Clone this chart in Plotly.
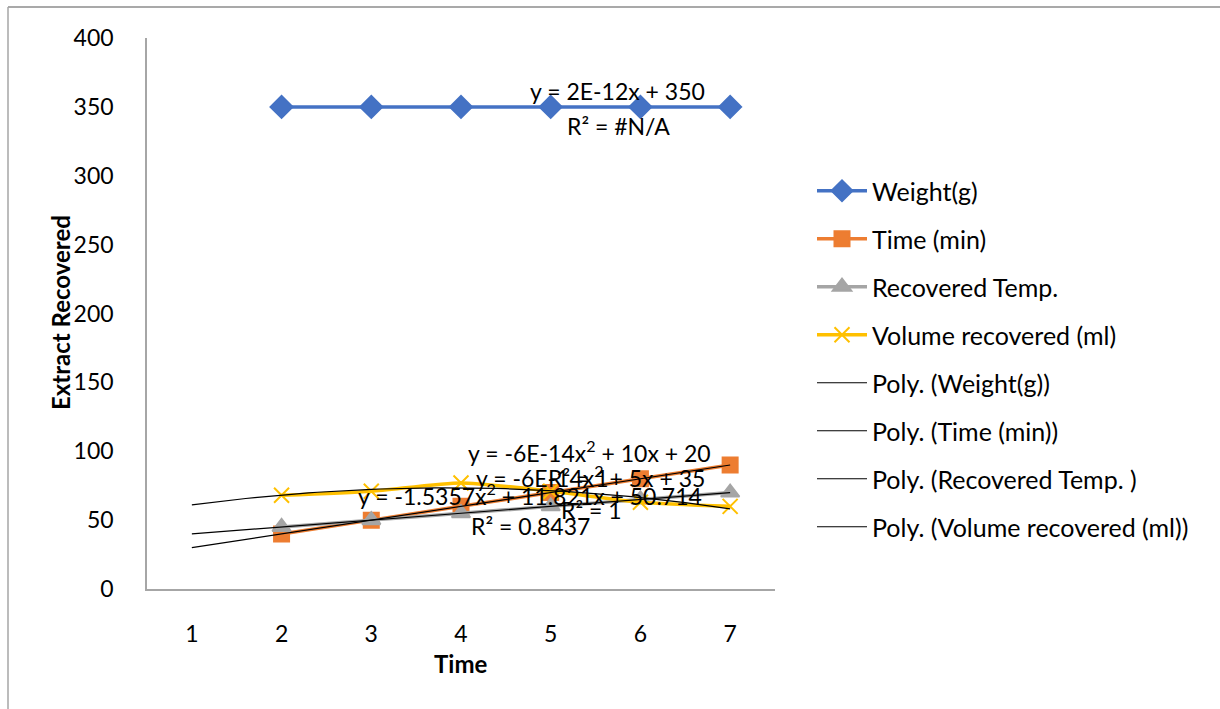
import numpy as np
import plotly.graph_objects as go

# ---- data ----
x_cats = [2, 3, 4, 5, 6, 7]
weight = [350, 350, 350, 350, 350, 350]
time_min = [40, 50, 60, 70, 80, 90]
rec_temp = [45, 50, 55, 60, 65, 70]
volume = [68, 71, 77, 71, 63, 60]
x_ticks = [1, 2, 3, 4, 5, 6, 7]
y_ticks = [0, 50, 100, 150, 200, 250, 300, 350, 400]

FONT = "Lato"
W, H = 1220, 709
L, R, T, B = 147, 775, 38, 589

fig = go.Figure()

series = [
    ("Weight(g)", weight, "#4472C4", "diamond", 17),
    ("Time (min)", time_min, "#ED7D31", "square", 15),
    ("Recovered Temp.", rec_temp, "#A5A5A5", "triangle-up", 16),
    ("Volume recovered (ml)", volume, "#FFC000", "x-thin-open", 15),
]
for i, (name, ys, col, sym, sz) in enumerate(series):
    fig.add_trace(go.Scatter(
        x=x_cats, y=ys, name=name, mode="lines+markers",
        line=dict(color=col, width=3.5, shape="spline", smoothing=0.6),
        marker=dict(symbol=sym, size=sz, color=col,
                    line=dict(color=col, width=2)),
        legendgroup=f"g{i}",
    ))

# polynomial (order 2) trendlines fitted from the data
xt = np.linspace(1, 7, 61)
trend_names = ["Poly. (Weight(g))", "Poly. (Time (min))",
               "Poly. (Recovered Temp. )", "Poly. (Volume recovered (ml))"]
for i, (tn, (name, ys, col, sym, sz)) in enumerate(zip(trend_names, series)):
    if i == 0:
        fig.add_trace(go.Scatter(x=[None], y=[None], name=tn, mode="lines",
                                 line=dict(color="black", width=1),
                                 legendgroup=f"t{i}"))
        continue
    c = np.polyfit(x_cats, ys, 2)
    fig.add_trace(go.Scatter(x=xt, y=np.polyval(c, xt), name=tn, mode="lines",
                             line=dict(color="black", width=1.2),
                             legendgroup=f"t{i}", hoverinfo="skip"))

def px_to_x(px):
    return 0.5 + (px - L) / (R - L) * 7.0

def py_to_y(py):
    return (B - py) / (B - T) * 400.0

labels = [
    ("y = 2E-12x + 350", 617, 91),
    ("R² = #N/A", 618, 126),
    ("y = -6E-14x<sup>2</sup> + 10x + 20", 589, 451),
    ("y = -6E-14x<sup>2</sup> + 5x + 35", 590, 476),
    ("R² = 1", 578, 478),
    ("y = -1.5357x<sup>2</sup> + 11.821x + 50.714", 530, 494),
    ("R² = 1", 591, 510),
    ("R² = 0.8437", 530, 526),
]
for txt, px, py in labels:
    fig.add_annotation(x=px_to_x(px), y=py_to_y(py), xref="x", yref="y",
                       text=txt, showarrow=False, xanchor="center", yanchor="middle",
                       font=dict(family=FONT, size=23, color="black"))

# axis titles
fig.add_annotation(x=(60 - L) / (R - L), y=(B - 313) / (B - T), xref="paper", yref="paper",
                   text="<b>Extract Recovered</b>", textangle=-90, showarrow=False,
                   xanchor="center", yanchor="middle",
                   font=dict(family=FONT, size=24, color="black"))
fig.add_annotation(x=(460 - L) / (R - L), y=(B - 663) / (B - T), xref="paper", yref="paper",
                   text="<b>Time</b>", showarrow=False,
                   xanchor="center", yanchor="middle",
                   font=dict(family=FONT, size=24, color="black"))

# chart outer border (top and left visible)
bx0 = (8 - L) / (R - L)
by_top = (B - 7) / (B - T)
by_bot = (B - 709) / (B - T)
bx1 = (W - L) / (R - L)
fig.add_shape(type="line", xref="paper", yref="paper", x0=bx0, x1=bx1, y0=by_top, y1=by_top,
              line=dict(color="#8C8C8C", width=1.5))
fig.add_shape(type="line", xref="paper", yref="paper", x0=bx0, x1=bx0, y0=by_top, y1=by_bot,
              line=dict(color="#A6A6A6", width=1.5))

fig.update_layout(
    width=W, height=H,
    margin=dict(l=L, r=W - R, t=T, b=H - B, autoexpand=False),
    paper_bgcolor="white", plot_bgcolor="white",
    font=dict(family=FONT, size=22, color="black"),
    showlegend=True,
    legend=dict(x=(812 - L) / (R - L), y=(B - 168) / (B - T), xanchor="left", yanchor="top",
                traceorder="grouped", tracegroupgap=12.5,
                font=dict(family=FONT, size=25, color="black"),
                bgcolor="rgba(0,0,0,0)", itemwidth=50),
    xaxis=dict(range=[0.5, 7.5], tickmode="array", tickvals=x_ticks,
               ticktext=[str(v) for v in x_ticks],
               showgrid=False, zeroline=False, showline=True,
               linecolor="#A6A6A6", linewidth=1.5, ticks="",
               ticklabelstandoff=24, tickfont=dict(family=FONT, size=23)),
    yaxis=dict(range=[0, 400], tickmode="array", tickvals=y_ticks,
               showgrid=False, zeroline=False, showline=True,
               linecolor="#A6A6A6", linewidth=1.5, ticks="",
               ticklabelstandoff=27, tickfont=dict(family=FONT, size=23)),
)

fig.write_html("out.html")
